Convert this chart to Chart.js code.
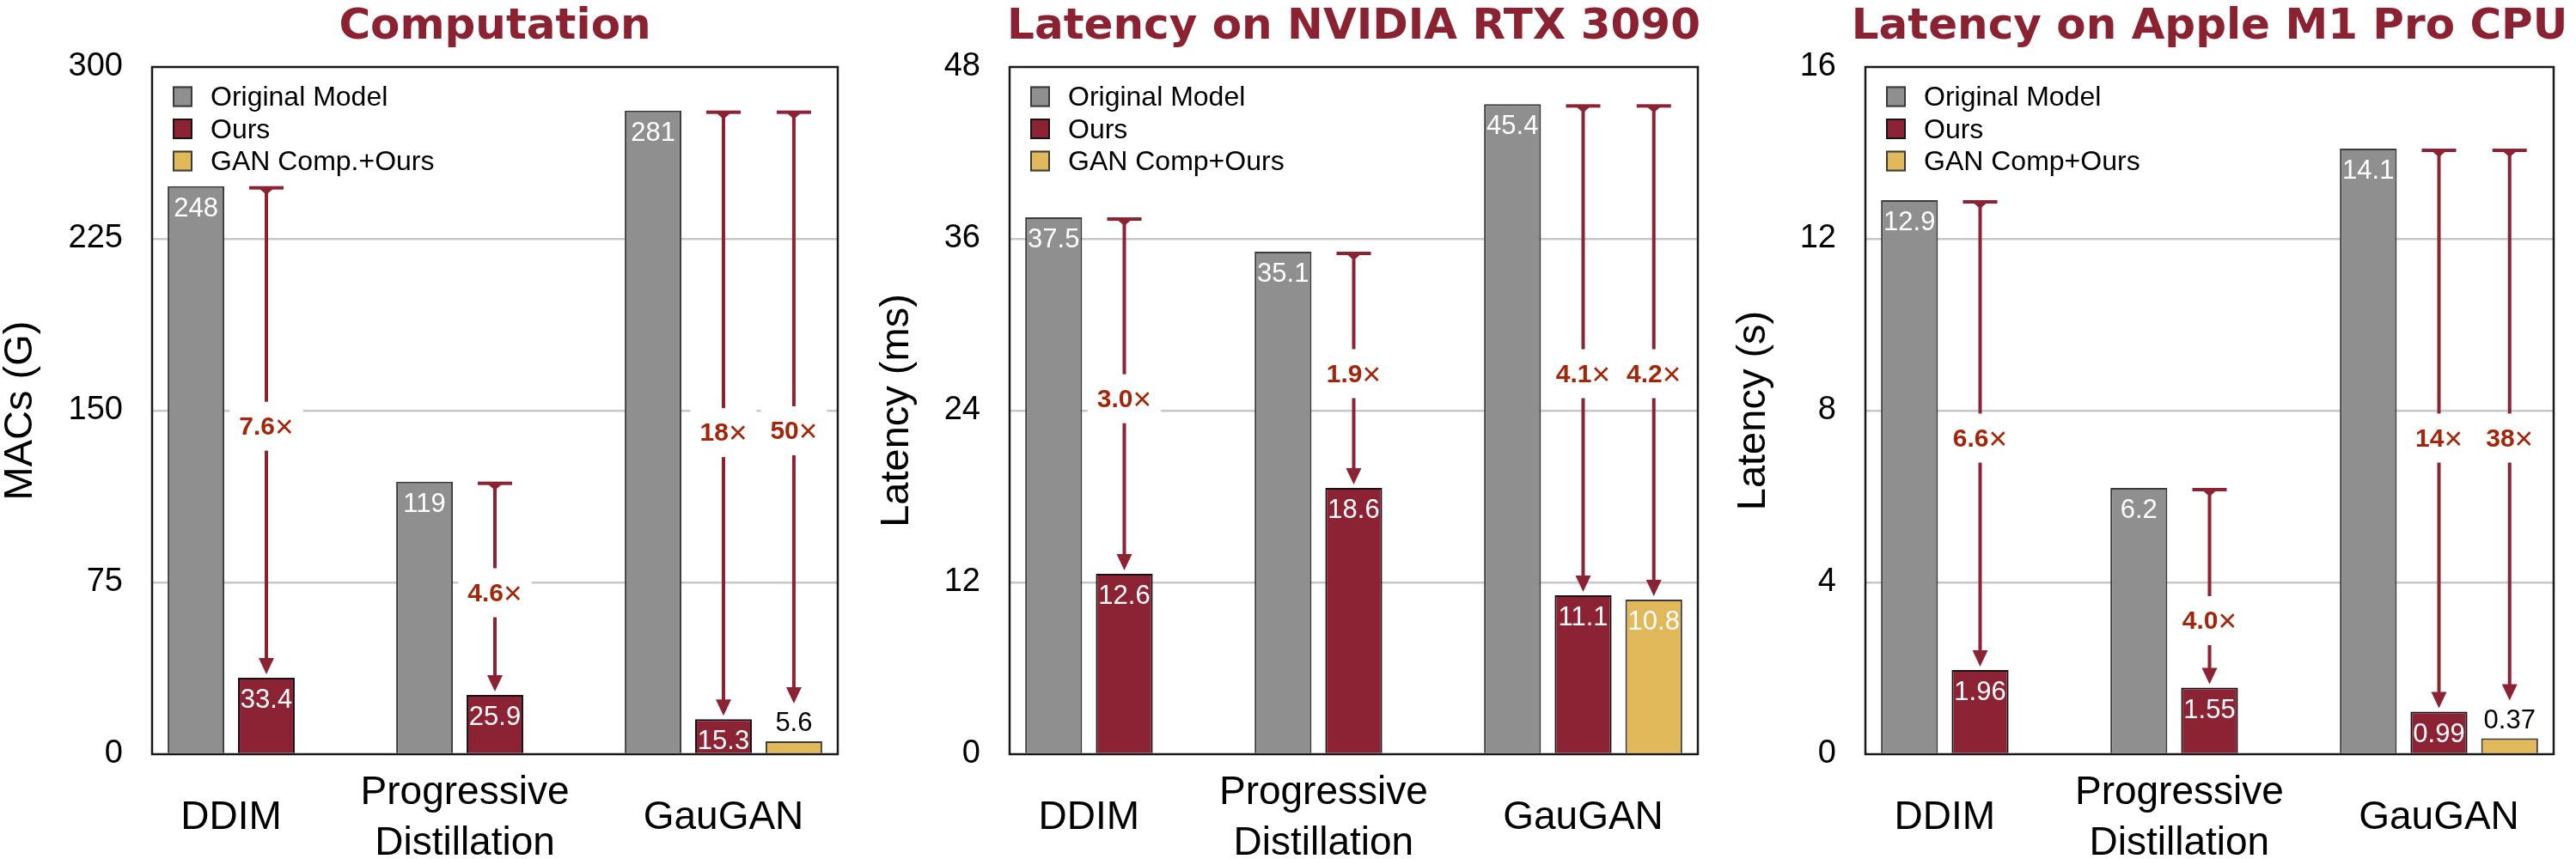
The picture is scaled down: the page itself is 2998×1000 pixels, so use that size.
<!DOCTYPE html>
<html><head><meta charset="utf-8">
<script src="https://cdn.jsdelivr.net/npm/chart.js@4.4.1/dist/chart.umd.min.js"></script>
<style>
html,body{margin:0;padding:0;background:#fff;}
#wrap{position:relative;width:2998px;height:1000px;background:#fff;}
canvas{position:absolute;top:0;}
</style></head><body>
<div id="wrap">
<canvas id="c0" width="999" height="1000" style="left:0px"></canvas>
<canvas id="c1" width="999" height="1000" style="left:999px"></canvas>
<canvas id="c2" width="1000" height="1000" style="left:1998px"></canvas>
</div>
<script>
// ---------- data ----------
const categories = [['DDIM'], ['Progressive', 'Distillation'], ['GauGAN']];
const seriesNames = ['Original Model', 'Ours', 'GAN Comp+Ours'];
const seriesNamesMacs = ['Original Model', 'Ours', 'GAN Comp.+Ours'];

const panelTitles = ['Computation', 'Latency on NVIDIA RTX 3090', 'Latency on Apple M1 Pro CPU'];
const yAxisTitles = ['MACs (G)', 'Latency (ms)', 'Latency (s)'];
const yMaxValues = [300, 48, 16];
const yStepValues = [75, 12, 4];

// Computation (MACs, G)
const macsOriginal = [248, 119, 281];
const macsOurs = [33.4, 25.9, 15.3];
const macsGanComp = [null, null, 5.6];
const macsRatioOurs = ['7.6', '4.6', '18'];
const macsRatioGan = [null, null, '50'];
const macsRatioAtOurs = [143, 70.3, 140.2];   // y value where the speed-up label sits
const macsRatioAtGan = [null, null, 141];

// Latency on NVIDIA RTX 3090 (ms)
const gpuOriginal = [37.5, 35.1, 45.4];
const gpuOurs = [12.6, 18.6, 11.1];
const gpuGanComp = [null, null, 10.8];
const gpuRatioOurs = ['3.0', '1.9', '4.1'];
const gpuRatioGan = [null, null, '4.2'];
const gpuRatioAtOurs = [24.8, 26.55, 26.55];
const gpuRatioAtGan = [null, null, 26.55];

// Latency on Apple M1 Pro CPU (s)
const cpuOriginal = [12.9, 6.2, 14.1];
const cpuOurs = [1.96, 1.55, 0.99];
const cpuGanComp = [null, null, 0.37];
const cpuRatioOurs = ['6.6', '4.0', '14'];
const cpuRatioGan = [null, null, '38'];
const cpuRatioAtOurs = [7.35, 3.1, 7.35];
const cpuRatioAtGan = [null, null, 7.35];

// ---------- styling ----------
const COL_GRAY = '#8f8f8f', COL_RED = '#8b2335', COL_YEL = '#e1b85a';
const BRD_GRAY = '#3a3a3a', BRD_RED = '#141414', BRD_YEL = '#3a3a3a';
const ARROW = '#8b2335', RATIO = '#a3260a', TITLE = '#8b2232';
const SANS = '"Liberation Sans", Arial, Helvetica, sans-serif';
const TITLE_FONT = 'bold 50px "DejaVu Sans", Verdana, sans-serif';

function makePlugin(cfg) {
  return {
    id: 'decor' + cfg.idx,
    beforeDatasetsDraw(chart) {
      const ctx = chart.ctx;
      const yScale = chart.scales.y;
      const metaO = chart.getDatasetMeta(0);
      [1, 2].forEach(di => {
        const meta = chart.getDatasetMeta(di);
        const vals = chart.data.datasets[di].data;
        vals.forEach((v, j) => {
          if (v == null) return;
          const bar = meta.data[j];
          const x = bar.x;
          const capY = metaO.data[j].y;
          const above = (bar.base - bar.y) < 35;
          const tip = above ? bar.y - 44 : bar.y - 4;
          ctx.save();
          ctx.fillStyle = ARROW; ctx.strokeStyle = ARROW; ctx.lineWidth = 4;
          ctx.fillRect(x - 20, capY, 40, 4);
          ctx.beginPath(); ctx.moveTo(x - 8, capY + 3); ctx.lineTo(x + 8, capY + 3); ctx.lineTo(x, capY + 10); ctx.closePath(); ctx.fill();
          ctx.beginPath(); ctx.moveTo(x, capY + 4); ctx.lineTo(x, tip - 18); ctx.stroke();
          ctx.beginPath(); ctx.moveTo(x - 9, tip - 19); ctx.lineTo(x + 9, tip - 19); ctx.lineTo(x, tip); ctx.closePath(); ctx.fill();
          const r = cfg.ratios[di - 1][j];
          const at = cfg.ratioAt[di - 1][j];
          if (r != null) {
            const mid = at != null ? yScale.getPixelForValue(at) : (capY + tip) / 2;
            ctx.font = 'bold 30px ' + SANS; const w1 = ctx.measureText(r).width;
            ctx.font = '37px ' + SANS; const w2 = ctx.measureText('\u00d7').width;
            const tw = w1 + w2;
            ctx.fillStyle = '#fff';
            ctx.fillRect(x - tw / 2 - 11, mid - 29, tw + 22, 57);
            ctx.fillStyle = RATIO; ctx.textBaseline = 'middle'; ctx.textAlign = 'left';
            ctx.font = 'bold 30px ' + SANS; ctx.fillText(r, x - tw / 2, mid + 1);
            ctx.font = '37px ' + SANS; ctx.fillText('\u00d7', x - tw / 2 + w1, mid + 2);
          }
          ctx.restore();
        });
      });
    },
    afterDatasetsDraw(chart) {
      const ctx = chart.ctx;
      const ca = chart.chartArea;
      ctx.save();
      // value labels
      chart.data.datasets.forEach((ds, di) => {
        const meta = chart.getDatasetMeta(di);
        ds.data.forEach((v, j) => {
          if (v == null) return;
          const bar = meta.data[j];
          const above = (bar.base - bar.y) < 35;
          ctx.font = '31px ' + SANS;
          ctx.textAlign = 'center'; ctx.textBaseline = 'alphabetic';
          if (above) { ctx.fillStyle = '#000'; ctx.fillText(String(v), bar.x, bar.y - 12); }
          else { ctx.fillStyle = '#fff'; ctx.fillText(String(v), bar.x, bar.y + 35); }
        });
      });
      // frame
      ctx.strokeStyle = '#1a1a1a'; ctx.lineWidth = 2.5;
      ctx.strokeRect(ca.left, ca.top, ca.right - ca.left, ca.bottom - ca.top);
      // legend
      chart.data.datasets.forEach((ds, i) => {
        const cy = ca.top + 34.5 + i * 37.5;
        const bx = ca.left + 24;
        ctx.fillStyle = ds.backgroundColor;
        ctx.fillRect(bx, cy - 12, 23, 24);
        ctx.strokeStyle = ds.borderColor; ctx.lineWidth = 2;
        ctx.strokeRect(bx + 1, cy - 11, 21, 22);
        ctx.fillStyle = '#000'; ctx.font = '32px ' + SANS;
        ctx.textAlign = 'left'; ctx.textBaseline = 'middle';
        ctx.fillText(ds.label, ca.left + 68, cy + 2);
      });
      // category labels, centred on the bars present in each group
      const labels = chart.data.labels;
      labels.forEach((lab, j) => {
        let xs = [];
        chart.data.datasets.forEach((ds, di) => {
          if (ds.data[j] != null) xs.push(chart.getDatasetMeta(di).data[j].x);
        });
        const cx = xs.reduce((a, b) => a + b, 0) / xs.length;
        const lines = Array.isArray(lab) ? lab : [lab];
        ctx.fillStyle = '#000'; ctx.font = '46px ' + SANS;
        ctx.textAlign = 'center'; ctx.textBaseline = 'alphabetic';
        lines.forEach((ln, k) => {
          const by = 965 + (k - (lines.length - 1) / 2) * 59;
          ctx.fillText(ln, cx + (lines.length > 1 ? 6 : 0), by);
        });
      });
      // panel title
      ctx.fillStyle = TITLE; ctx.font = TITLE_FONT;
      ctx.textAlign = 'center'; ctx.textBaseline = 'alphabetic';
      ctx.fillText(cfg.title, (ca.left + ca.right) / 2, 45);
      ctx.restore();
    }
  };
}

function makeChart(idx, names, orig, ours, gan, ratioOurs, ratioGan, atOurs, atGan, yAxisW, rightPad, yTitlePad) {
  const max = yMaxValues[idx];
  return new Chart(document.getElementById('c' + idx), {
    type: 'bar',
    data: {
      labels: categories,
      datasets: [
        { label: names[0], data: orig, backgroundColor: COL_GRAY, borderColor: BRD_GRAY, borderWidth: 2 },
        { label: names[1], data: ours, backgroundColor: COL_RED, borderColor: BRD_RED, borderWidth: 2 },
        { label: names[2], data: gan, backgroundColor: COL_YEL, borderColor: BRD_YEL, borderWidth: 2 }
      ]
    },
    options: {
      responsive: false,
      animation: false,
      devicePixelRatio: 1,
      datasets: { bar: { categoryPercentage: 0.924, barPercentage: 0.805 } },
      layout: { padding: { left: 0, right: rightPad, top: 78, bottom: 122 } },
      plugins: { legend: { display: false }, title: { display: false }, tooltip: { enabled: false } },
      scales: {
        x: { type: 'category', display: false, offset: true, grid: { display: false } },
        y: {
          min: 0, max: max,
          afterFit: s => { s.width = yAxisW; },
          ticks: { stepSize: yStepValues[idx], color: '#000', padding: 34, font: { family: SANS, size: 38 } },
          grid: {
            drawTicks: false, lineWidth: 2.5,
            color: c => (c.tick && (c.tick.value === 0 || c.tick.value === max)) ? 'rgba(0,0,0,0)' : '#c8c8c8'
          },
          border: { display: false },
          title: { display: true, text: yAxisTitles[idx], color: '#000', padding: { top: yTitlePad, bottom: 0 },
                   font: { family: SANS, size: 47, lineHeight: 1 } }
        }
      }
    },
    plugins: [makePlugin({ idx, title: panelTitles[idx], ratios: [ratioOurs, ratioGan], ratioAt: [atOurs, atGan] })]
  });
}

makeChart(0, seriesNamesMacs, macsOriginal, macsOurs, macsGanComp, macsRatioOurs, macsRatioGan, macsRatioAtOurs, macsRatioAtGan, 177, 24, 1);
makeChart(1, seriesNames, gpuOriginal, gpuOurs, gpuGanComp, gpuRatioOurs, gpuRatioGan, gpuRatioAtOurs, gpuRatioAtGan, 176, 22, 22);
makeChart(2, seriesNames, cpuOriginal, cpuOurs, cpuGanComp, cpuRatioOurs, cpuRatioGan, cpuRatioAtOurs, cpuRatioAtGan, 173, 26, 20);
</script>
</body></html>
